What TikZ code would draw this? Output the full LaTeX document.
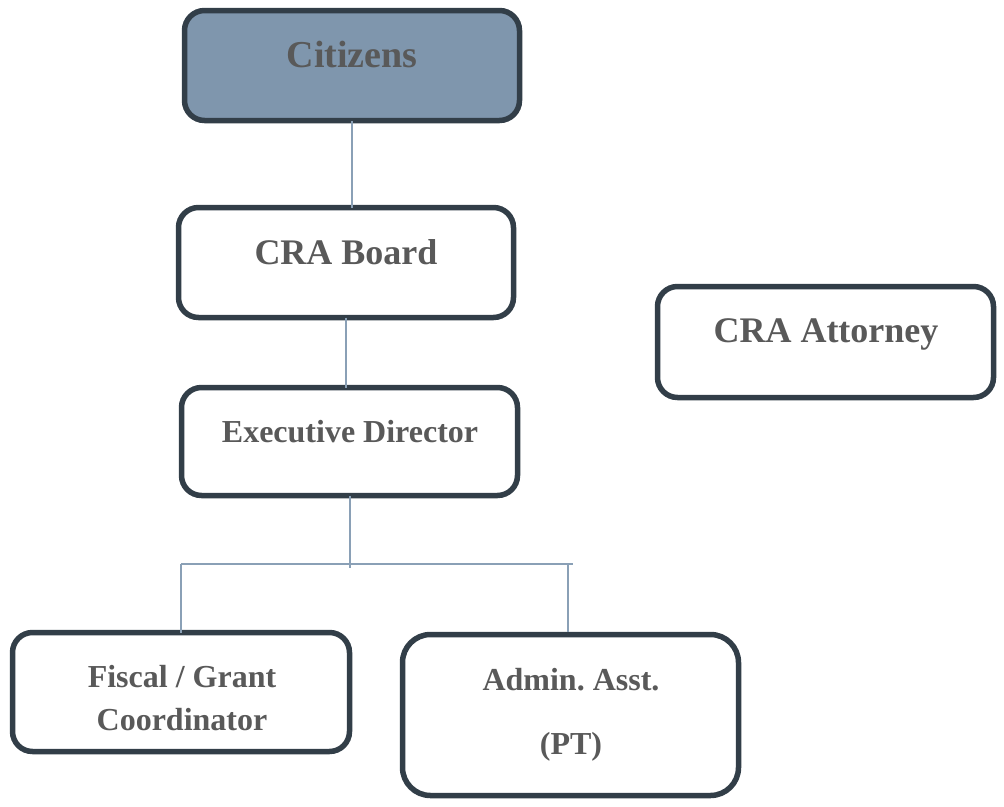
\documentclass[tikz,border=0pt]{standalone}
\usepackage{fontspec}
\setmainfont{Liberation Serif}
\definecolor{boxline}{HTML}{323E48}
\definecolor{citfill}{HTML}{7F96AD}
\definecolor{conn}{HTML}{8AA0B6}
\definecolor{txtgray}{HTML}{595959}
\begin{document}
\begin{tikzpicture}[x=1pt,y=-1pt,
  orgbox/.style={draw=boxline,line width=5.5pt,rounded corners=20pt,fill=white,inner sep=0pt,outer sep=0pt},
  lbl/.style={text=txtgray,font=\bfseries,inner sep=0pt,align=center,anchor=base},
  link/.style={draw=conn,line width=2pt}]
\useasboundingbox (0,0) rectangle (1004,806);
% boxes
\node[orgbox,fill=citfill,minimum width=335pt,minimum height=110pt] (cit) at (352,65.5) {};
\node[orgbox,minimum width=335pt,minimum height=110pt] (board) at (346,262.5) {};
\node[orgbox,minimum width=336pt,minimum height=111pt] (att) at (825.5,342) {};
\node[orgbox,minimum width=336pt,minimum height=108pt] (exec) at (349.5,441.5) {};
\node[orgbox,minimum width=337pt,minimum height=119pt] (fiscal) at (181,692) {};
\node[orgbox,rounded corners=28pt,minimum width=336pt,minimum height=161pt] (admin) at (570.5,715) {};
% labels
\node[lbl,font=\bfseries\fontsize{38}{44}\selectfont] (tcit) at (352,67) {Citizens};
\node[lbl,font=\bfseries\fontsize{36}{42}\selectfont] (tboard) at (346,264) {CRA Board};
\node[lbl,font=\bfseries\fontsize{36}{42}\selectfont] (tatt) at (826,342) {CRA Attorney};
\node[lbl,font=\bfseries\fontsize{32}{38}\selectfont] (texec) at (350,442) {Executive Director};
\node[lbl,font=\bfseries\fontsize{32}{38}\selectfont] (tfis1) at (182,687) {Fiscal / Grant};
\node[lbl,font=\bfseries\fontsize{32}{38}\selectfont] (tfis2) at (182,730) {Coordinator};
\node[lbl,font=\bfseries\fontsize{32}{38}\selectfont] (tad1) at (571,690) {Admin.\ Asst.};
\node[lbl,font=\bfseries\fontsize{32}{38}\selectfont] (tad2) at (571,754) {(PT)};
% connectors
\coordinate (barL) at (181,564);
\coordinate (barR) at (573,564);
\coordinate (adminTop) at (568,632);
\coordinate (execDown) at (350,568);
\draw[link] (cit.south) -- (cit.south |- board.north);
\draw[link] (board.south) -- (board.south |- exec.north);
\draw[link] (exec.south) -- (exec.south |- execDown);
\draw[link] (barL) -- (barR);
\draw[link] (fiscal.north) -- (fiscal.north |- barL);
\draw[link] (adminTop) -- (adminTop |- barR);
\end{tikzpicture}
\end{document}
